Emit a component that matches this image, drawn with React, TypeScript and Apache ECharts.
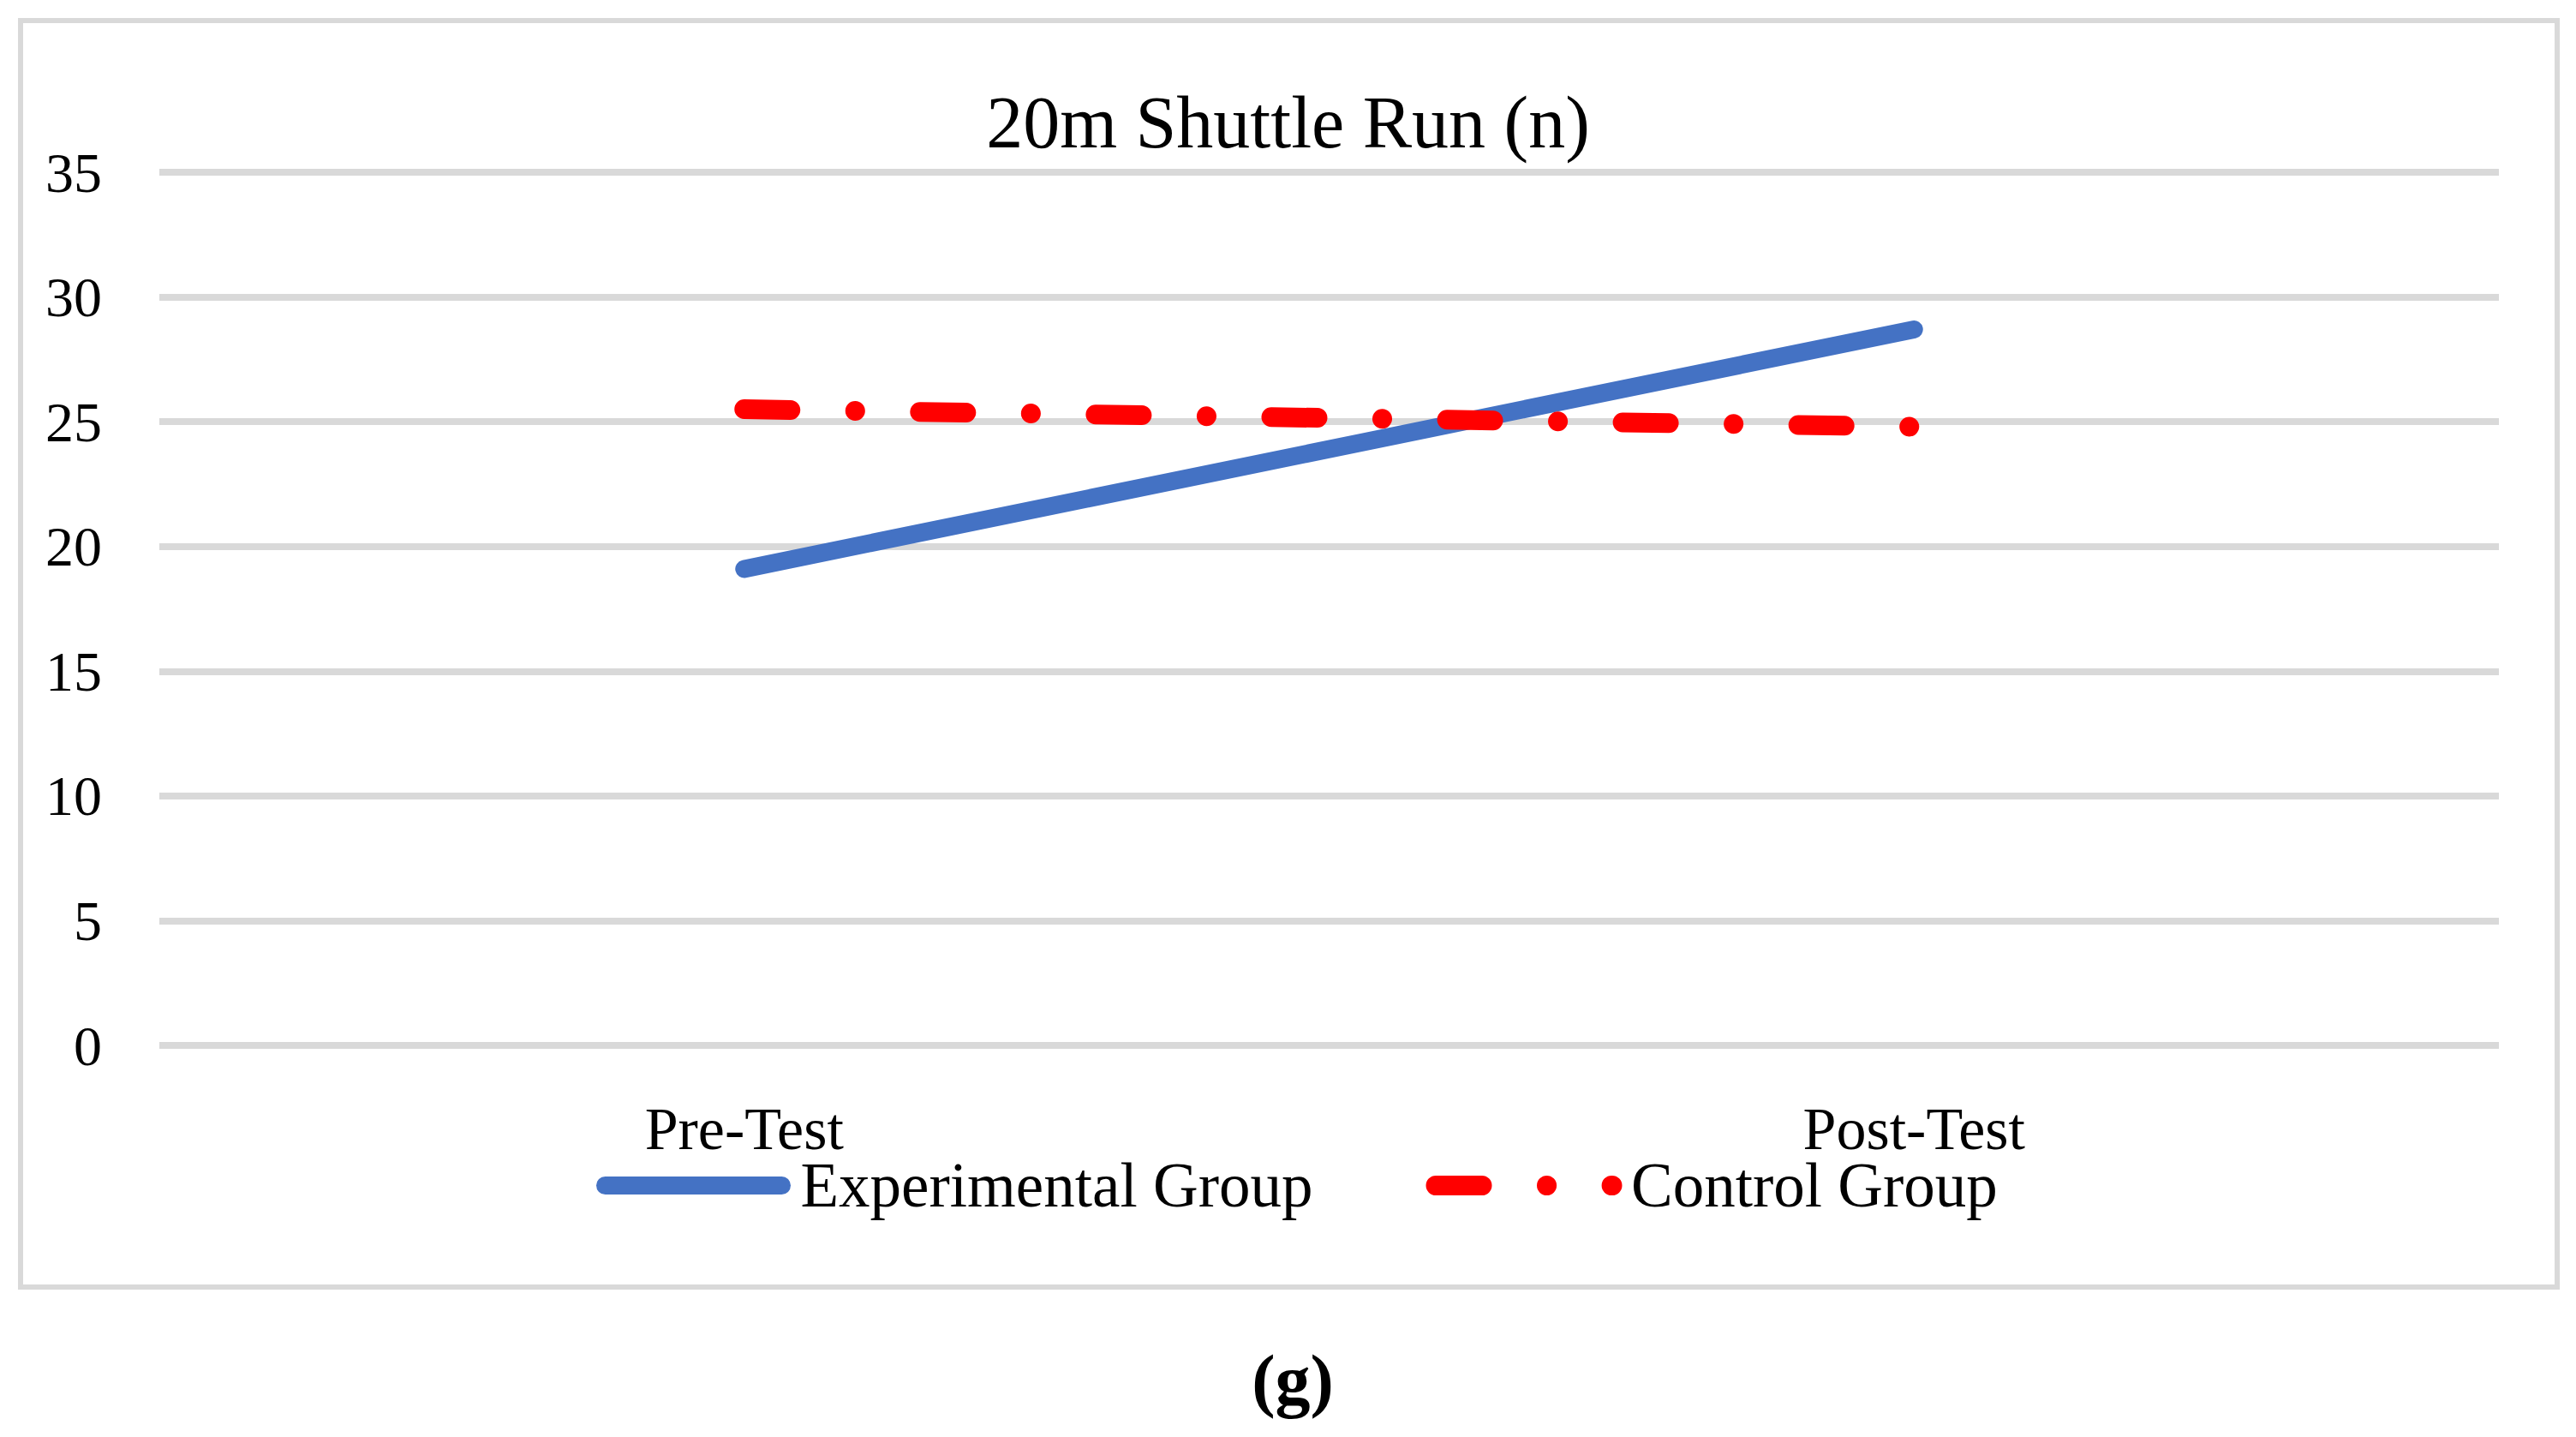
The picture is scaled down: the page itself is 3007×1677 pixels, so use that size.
import React, { useEffect, useRef } from "react";
import * as echarts from "echarts";

const categories = ["Pre-Test", "Post-Test"];
const experimental = [19.1, 28.7];
const control = [25.5, 24.8];
const seriesNames = ["Experimental Group", "Control Group"];
const titleText = "20m Shuttle Run (n)";
const panelLabel = "(g)";

const FONT = "Liberation Serif";

export default function App() {
  const ref = useRef<HTMLDivElement>(null);
  useEffect(() => {
    if (!ref.current) return;
    const chart = echarts.init(ref.current, null, { renderer: "svg" });
    const blue = { color: "#4472C4", width: 21, cap: "round" as const };
    const red = {
      color: "#FF0000",
      width: 23,
      cap: "round" as const,
      type: [54, 75.5, 0.1, 75.5] as number[],
    };
    chart.setOption({
      animation: false,
      backgroundColor: "#ffffff",
      title: {
        text: titleText,
        left: "center",
        top: 92,
        textStyle: { fontFamily: FONT, fontSize: 86, fontWeight: "normal", color: "#000", lineHeight: 92 },
      },
      grid: { left: 186, right: 90, top: 201, bottom: 457, containLabel: false },
      legend: {
        left: 691,
        top: 1342,
        itemWidth: 206,
        itemHeight: 22,
        itemGap: 132,
        textStyle: { fontFamily: FONT, fontSize: 73, color: "#000", lineHeight: 66, padding: [0, 0, 0, 17] },
        data: [
          { name: seriesNames[0], lineStyle: blue, itemStyle: { opacity: 0 } },
          { name: seriesNames[1], lineStyle: red, itemStyle: { opacity: 0 } },
        ],
      },
      xAxis: {
        type: "category",
        data: categories,
        boundaryGap: true,
        axisLine: { show: false },
        axisTick: { show: false },
        splitLine: { show: false },
        axisLabel: { fontFamily: FONT, fontSize: 70, color: "#000", margin: 68, lineHeight: 58 },
      },
      yAxis: {
        type: "value",
        min: 0,
        max: 35,
        interval: 5,
        axisLine: { show: false },
        axisTick: { show: false },
        axisLabel: { fontFamily: FONT, fontSize: 66, color: "#000", margin: 67 },
        splitLine: { show: true, lineStyle: { color: "#d9d9d9", width: 8 } },
      },
      series: [
        {
          name: seriesNames[0],
          type: "line",
          data: experimental,
          symbol: "none",
          color: "#4472C4",
          itemStyle: { color: "#4472C4" },
          lineStyle: blue,
          z: 3,
        },
        {
          name: seriesNames[1],
          type: "line",
          data: control,
          symbol: "none",
          color: "#FF0000",
          itemStyle: { color: "#FF0000" },
          lineStyle: red,
          z: 4,
        },
      ],
      graphic: [
        {
          type: "rect",
          shape: { x: 24, y: 24, width: 2961, height: 1478 },
          style: { fill: "none", stroke: "#d9d9d9", lineWidth: 6 },
          silent: true,
        },
        {
          type: "text",
          x: 1509,
          y: 1610,
          style: {
            text: panelLabel,
            fontFamily: FONT,
            fontSize: 82,
            fontWeight: "bold",
            fill: "#000",
            align: "center",
            verticalAlign: "middle",
          },
        },
      ],
    });
    return () => chart.dispose();
  }, []);
  return (
    <div
      ref={ref}
      style={{ position: "absolute", left: 0, top: 0, width: 3007, height: 1677 }}
    />
  );
}
